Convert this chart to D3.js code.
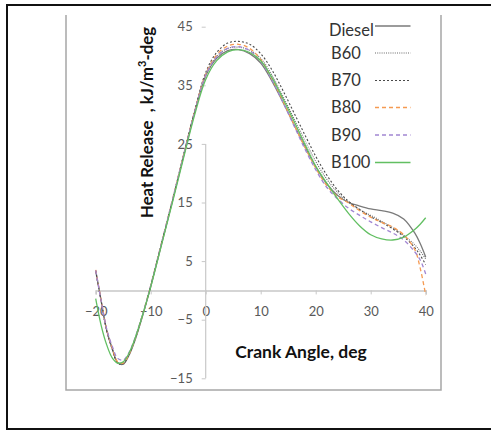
<!DOCTYPE html>
<html>
<head>
<meta charset="utf-8">
<script src="https://cdn.jsdelivr.net/npm/d3@7"></script>
<style>
  body { margin: 0; background: #fff; }
  svg { display: block; font-family: Lato, "Open Sans", sans-serif; }
</style>
</head>
<body>
<svg width="491" height="430"></svg>
<script>
// crank angle grid (deg)
const angles = [-20,-19,-18,-17,-16,-15,-14,-13,-12,-11,-10,-8,-6,-4,-2,0,2,4,6,8,10,12,14,16,18,20,22,24,26,28,30,32,34,36,38,39,40];

// heat release, kJ/m3-deg
const diesel = [3.4,-1.8,-6.8,-9.9,-12.3,-12.6,-11.2,-8.9,-6.0,-2.8,0.6,8.0,15.4,23.0,30.4,36.6,39.6,40.9,41.1,40.4,38.8,35.8,32.2,28.4,24.6,21.1,18.2,16.2,15.0,14.4,13.9,13.6,13.2,12.2,9.8,8.0,5.7];
const b60 = [3.3,-1.9,-6.9,-10.0,-12.4,-12.6,-11.1,-8.8,-5.9,-2.7,0.7,8.1,15.5,23.1,30.5,36.8,39.9,41.3,41.5,41.0,39.6,36.8,33.2,29.4,25.6,22.0,19.0,16.7,15.0,13.8,12.8,11.8,10.7,9.4,7.8,6.7,5.4];
const b70 = [3.3,-1.9,-6.9,-10.0,-12.4,-12.5,-11.0,-8.7,-5.8,-2.6,0.8,8.2,15.6,23.2,30.7,37.2,40.6,42.2,42.5,42.0,40.4,37.7,34.2,30.4,26.6,22.9,19.7,17.1,15.2,13.8,12.6,11.6,10.5,9.2,7.3,6.0,4.4];
const b80 = [3.5,-1.7,-6.7,-9.8,-12.2,-12.4,-11.0,-8.7,-5.8,-2.6,0.8,8.2,15.6,23.2,30.6,36.9,40.2,41.7,42.0,41.3,39.4,36.2,32.4,28.4,24.5,20.9,17.9,16.0,14.9,13.6,12.5,11.6,10.8,9.5,7.0,3.8,-0.8];
const b90 = [3.4,-1.8,-6.6,-9.5,-11.6,-11.9,-10.7,-8.5,-5.7,-2.6,0.8,8.2,15.6,23.1,30.5,36.7,39.9,41.3,41.6,40.9,39.1,36.0,32.2,28.2,24.2,20.6,17.6,15.6,14.0,12.8,11.7,10.7,9.8,8.6,6.6,5.2,2.8];
const b100 = [-1.4,-6.0,-9.3,-11.5,-12.4,-12.2,-10.8,-8.6,-5.8,-2.7,0.6,7.9,15.2,22.7,30.0,36.0,39.2,40.7,41.1,40.6,39.2,36.4,32.8,29.0,25.0,21.2,18.3,15.6,13.1,11.0,9.5,8.8,8.6,9.1,10.4,11.3,12.4];

const seriesNames = ["Diesel", "B60", "B70", "B80", "B90", "B100"];
const xTicks = [-20, -10, 0, 10, 20, 30, 40];
const yTicks = [-15, -5, 5, 15, 25, 35, 45];

const styles = {
  Diesel: { color: "#7a7a7a", dash: null, w: 1.3 },
  B60:    { color: "#6a6a6a", dash: "1,1.2", w: 1.1 },
  B70:    { color: "#4a4a4a", dash: "2,2", w: 1.1 },
  B80:    { color: "#f59a52", dash: "4,3", w: 1.3 },
  B90:    { color: "#a186d2", dash: "4,3", w: 1.3 },
  B100:   { color: "#62bf62", dash: null, w: 1.3 }
};

const svg = d3.select("svg");

// outer frame + inner plot box
svg.append("rect").attr("x", 7).attr("y", 5).attr("width", 500).attr("height", 424)
  .attr("fill", "none").attr("stroke", "#111").attr("stroke-width", 2);
svg.append("path").attr("d", "M66,15V390H441V15")
  .attr("fill", "none").attr("stroke", "#a6a6a6").attr("stroke-width", 1.5);

const x = d3.scaleLinear().domain([-20, 40]).range([95.7, 425.7]);
const y = d3.scaleLinear().domain([-15, 45]).range([378.3, 26.7]);

// x axis through y=0
const gx = svg.append("g").attr("transform", `translate(0,${y(0)})`)
  .call(d3.axisBottom(x).tickValues(xTicks).tickSize(4).tickPadding(12).tickFormat(d3.format("d")));
gx.select(".domain").attr("stroke", "#c8c8c8").attr("stroke-width", 1.5);
gx.selectAll(".tick line").attr("stroke", "#c8c8c8");
gx.selectAll(".tick text").attr("fill", "#595959").style("font-size", "13px").style("font-family", "Lato");

// y axis through x=0
const gy = svg.append("g").attr("transform", `translate(${x(0)},0)`)
  .call(d3.axisLeft(y).tickValues(yTicks).tickSize(4).tickPadding(9).tickFormat(d3.format("d")));
gy.select(".domain").remove();
gy.selectAll(".tick line").attr("stroke", "#c8c8c8");
gy.selectAll(".tick text").attr("fill", "#595959").style("font-size", "13px").style("font-family", "Lato");
gy.append("line").attr("y1", y(25)).attr("y2", y(-15))
  .attr("stroke", "#c8c8c8").attr("stroke-width", 1.2);

// curves
const dataBy = { Diesel: diesel, B60: b60, B70: b70, B80: b80, B90: b90, B100: b100 };
const line = d3.line().x(d => x(d[0])).y(d => y(d[1])).curve(d3.curveCatmullRom.alpha(0.5));

seriesNames.forEach(name => {
  const s = styles[name];
  svg.append("path")
    .datum(angles.map((a, i) => [a, dataBy[name][i]]))
    .attr("d", line)
    .attr("fill", "none")
    .attr("stroke", s.color)
    .attr("stroke-width", s.w)
    .attr("stroke-dasharray", s.dash);
});

// axis titles
svg.append("text").attr("x", 301).attr("y", 358).attr("text-anchor", "middle")
  .attr("font-weight", "bold").attr("font-size", "17.5px").attr("fill", "#111")
  .text("Crank Angle, deg");

const yt = svg.append("text")
  .attr("transform", "translate(152.5,122.5) rotate(-90)")
  .attr("text-anchor", "middle").attr("font-weight", "bold").attr("font-size", "16.8px")
  .attr("fill", "#111").style("white-space", "pre");
yt.append("tspan").text("Heat Release  , kJ/m");
yt.append("tspan").attr("font-size", "11px").attr("dy", -7).text("3");
yt.append("tspan").attr("dy", 7).text("-deg");

// legend
const legendY = [30, 53, 80.5, 107.5, 135, 162.5];
const legend = svg.append("g");
seriesNames.forEach((name, i) => {
  const s = styles[name];
  const ly = legendY[i];
  legend.append("text").attr("x", name === "Diesel" ? 329 : 331).attr("y", ly).attr("dy", "0.35em")
    .attr("font-size", "16.5px").attr("fill", "#333").text(name);
  legend.append("line")
    .attr("x1", 375).attr("x2", 410.5)
    .attr("y1", name === "Diesel" ? ly - 4 : ly).attr("y2", name === "Diesel" ? ly - 4 : ly)
    .attr("stroke", s.color).attr("stroke-width", s.w).attr("stroke-dasharray", s.dash);
});
</script>
</body>
</html>
